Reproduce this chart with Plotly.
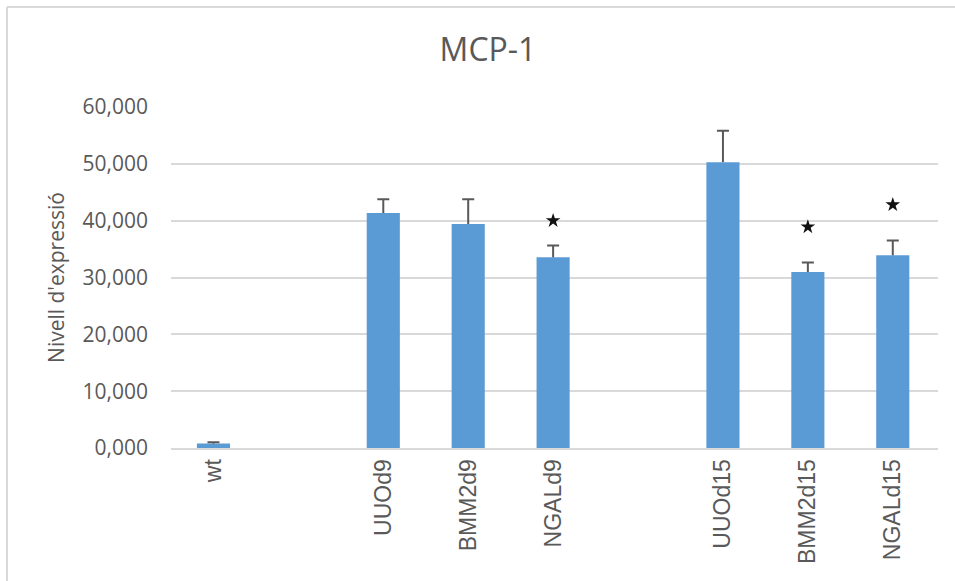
import plotly.graph_objects as go

categories = ["wt", " ", "UUOd9", "BMM2d9", "NGALd9", "  ", "UUOd15", "BMM2d15", "NGALd15"]
means = [0.77, None, 41.35, 39.4, 33.55, None, 50.3, 30.95, 33.9]
errors = [0.25, None, 2.4, 4.35, 2.1, None, 5.5, 1.7, 2.6]

sig_categories = ["NGALd9", "BMM2d15", "NGALd15"]
sig_y = [40.0, 38.9, 42.8]

y_ticks = [0, 10, 20, 30, 40, 50, 60]
y_tick_labels = ["0,000", "10,000", "20,000", "30,000", "40,000", "50,000", "60,000"]

err_color = "#595959"
cap_y = [m + e if m is not None else None for m, e in zip(means, errors)]

fig = go.Figure()
fig.add_trace(go.Bar(
    x=categories, y=means,
    marker=dict(color="#5B9BD5", line=dict(width=0)),
    error_y=dict(type="data", array=errors, symmetric=False, arrayminus=[0]*len(errors),
                 color=err_color, thickness=2, width=0),
    showlegend=False,
))
# caps only at the top of each error bar
fig.add_trace(go.Scatter(
    x=categories, y=cap_y, mode="markers",
    marker=dict(size=1, color="rgba(0,0,0,0)"),
    error_y=dict(type="data", array=[0]*len(categories), color=err_color, thickness=2, width=6),
    showlegend=False, hoverinfo="skip",
))
fig.add_trace(go.Scatter(
    x=sig_categories, y=sig_y, mode="markers",
    marker=dict(symbol="star", size=11, color="#111111"),
    showlegend=False, hoverinfo="skip",
))

fig.update_layout(
    width=955, height=581,
    paper_bgcolor="white", plot_bgcolor="white",
    margin=dict(l=171, r=17, t=107, b=133),
    bargap=0.61,
    title=dict(text="MCP-1", x=488/955, xanchor="center", y=1-50/581, yanchor="middle",
               font=dict(family="Open Sans", size=32, color="#595959")),
    font=dict(family="Open Sans", color="#595959"),
)
fig.update_xaxes(
    type="category", categoryorder="array", categoryarray=categories,
    tickangle=-90, tickfont=dict(family="Liberation Sans", size=23, color="#595959"),
    showline=True, linecolor="#D9D9D9", linewidth=2, ticks="", showgrid=False,
)
fig.update_yaxes(
    range=[0, 60], tickvals=y_ticks, ticktext=y_tick_labels,
    tickfont=dict(family="Open Sans", size=21, color="#595959"),
    showgrid=True, gridcolor="#D9D9D9", gridwidth=2, zeroline=False,
    showline=False, ticks="", ticklabelstandoff=22,
    title=dict(text="Nivell d'expressió", font=dict(family="Open Sans", size=21, color="#595959"), standoff=12),
)
fig.add_shape(type="line", xref="paper", yref="paper", x0=-164/767, x1=1.05, y0=1+100/341, y1=1+100/341,
              line=dict(color="#D9D9D9", width=2))
fig.add_shape(type="line", xref="paper", yref="paper", x0=-164/767, x1=-164/767, y0=-0.5, y1=1+100/341,
              line=dict(color="#D9D9D9", width=2))

fig.write_html("out.html", config={"displayModeBar": False},
               post_script="document.body.style.margin='0px';")
